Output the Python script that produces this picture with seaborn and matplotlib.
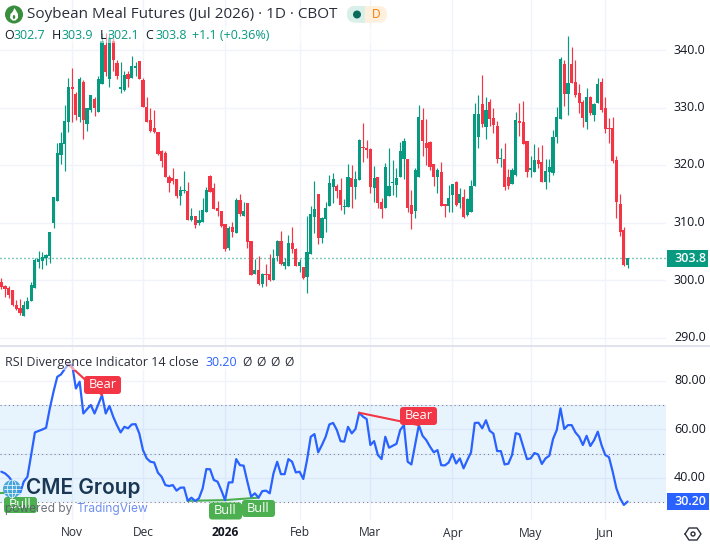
import matplotlib
matplotlib.use("Agg")
import matplotlib.pyplot as plt
from matplotlib.patches import Circle, Ellipse, FancyBboxPatch, Polygon, Rectangle
import numpy as np
import pandas as pd
import seaborn as sns

# Daily session values for the July 2026 soybean meal contract
opens = [299.65, 299.0, 298.6, 298.3, 295.7, 295.1, 293.8, 295.0, 296.3, 298.6, 303.1, 303.3, 303.8, 304.2, 309.9, 313.8,
         321.8, 323.7, 327.5, 333.5, 332.3, 328.4, 334.5, 327.1, 329.5, 331.5, 329.2, 334.1, 340.9, 335.0, 341.5, 337.8,
         333.3, 333.0, 335.9, 335.2, 336.9, 338.1, 334.8, 330.1, 327.8, 326.4, 325.7, 322.4, 322.1, 317.9, 317.7, 317.6,
         314.6, 315.5, 315.5, 310.4, 311.1, 309.9, 310.1, 311.8, 318.1, 316.0, 312.5, 312.0, 309.7, 305.6, 309.2, 308.2,
         313.9, 311.1, 313.4, 306.8, 301.0, 301.7, 299.3, 301.0, 301.0, 300.0, 304.2, 306.8, 302.4, 302.4, 306.4, 305.4,
         302.4, 302.3, 300.5, 304.5, 311.0, 314.9, 307.3, 310.6, 312.9, 316.2, 316.3, 315.6, 312.7, 312.7, 317.7, 316.2,
         317.4, 323.1, 322.9, 322.8, 316.0, 317.9, 313.6, 312.5, 314.6, 316.9, 316.5, 317.9, 321.0, 321.1, 313.0, 312.0,
         317.9, 327.8, 323.8, 324.0, 320.2, 317.9, 318.8, 313.2, 312.9, 314.8, 317.0, 313.4, 314.4, 311.3, 311.9, 316.4,
         324.9, 330.6, 326.6, 331.0, 328.2, 326.8, 321.1, 321.0, 317.9, 316.7, 318.2, 327.7, 327.5, 324.2, 319.2, 318.8,
         320.9, 320.5, 317.0, 318.8, 318.6, 324.9, 328.0, 337.6, 332.4, 337.6, 334.5, 332.6, 331.0, 327.5, 331.9, 328.7,
         330.8, 334.5, 330.0, 326.4, 326.5, 320.9, 313.2, 308.7, 302.7]
highs = [300.3, 299.1, 299.0, 298.3, 296.5, 296.7, 296.3, 297.0, 299.7, 303.8, 305.0, 304.9, 304.5, 308.3, 314.4, 323.9,
         325.7, 330.4, 335.2, 336.8, 332.7, 335.3, 334.8, 330.0, 332.2, 331.8, 335.4, 342.9, 342.9, 343.0, 342.1, 338.2,
         337.9, 336.3, 336.4, 339.0, 338.0, 338.1, 335.1, 331.8, 330.0, 329.6, 325.7, 322.7, 322.4, 318.3, 319.5, 317.6,
         316.3, 319.0, 317.0, 312.5, 311.1, 312.2, 314.3, 316.2, 318.3, 316.9, 313.7, 312.0, 309.7, 309.4, 310.1, 314.3,
         314.9, 313.6, 313.4, 306.8, 303.7, 304.2, 301.2, 302.8, 304.5, 305.4, 307.0, 308.5, 303.8, 307.8, 309.2, 305.6,
         303.7, 302.3, 311.1, 312.9, 317.2, 314.9, 311.0, 313.6, 318.2, 318.6, 316.7, 317.7, 314.1, 320.2, 320.0, 318.9,
         324.6, 327.3, 324.3, 323.0, 319.8, 317.9, 314.2, 320.3, 322.9, 320.9, 319.5, 324.0, 324.7, 321.1, 315.6, 319.5,
         330.4, 330.0, 328.0, 324.2, 320.2, 319.5, 320.5, 313.2, 316.5, 316.7, 317.2, 316.0, 315.8, 314.2, 317.4, 330.8,
         332.2, 335.7, 331.9, 331.5, 329.9, 327.7, 323.0, 323.8, 319.3, 319.5, 329.2, 330.8, 331.2, 324.2, 321.6, 323.7,
         323.1, 323.5, 321.0, 321.0, 326.1, 330.1, 338.8, 338.3, 342.5, 340.6, 338.3, 334.1, 331.3, 333.4, 332.0, 330.8,
         335.2, 335.2, 331.9, 328.2, 328.4, 321.6, 314.9, 309.2, 303.9]
lows = [298.4, 297.0, 296.9, 295.5, 294.8, 293.9, 293.8, 295.0, 296.3, 298.6, 302.1, 301.9, 302.6, 303.0, 309.0, 313.8,
        320.2, 319.0, 325.8, 327.4, 327.9, 327.5, 324.6, 326.0, 329.2, 328.5, 329.2, 334.1, 335.5, 333.6, 336.4, 334.9,
        332.5, 332.8, 333.6, 335.2, 335.4, 334.9, 330.1, 327.5, 325.8, 325.5, 321.7, 319.7, 317.9, 315.3, 316.7, 314.3,
        313.0, 315.1, 310.4, 310.3, 309.0, 309.6, 310.1, 311.8, 315.3, 312.3, 311.1, 309.2, 305.0, 305.2, 307.5, 308.2,
        311.1, 311.1, 305.6, 300.9, 301.0, 299.1, 298.8, 299.0, 299.8, 300.0, 303.3, 302.6, 301.9, 302.4, 304.7, 302.4,
        301.4, 300.2, 297.7, 304.5, 308.2, 306.3, 306.4, 308.3, 312.9, 313.4, 314.2, 312.2, 311.5, 312.7, 312.5, 314.1,
        317.4, 320.5, 321.2, 315.2, 313.6, 312.6, 310.8, 312.5, 314.6, 314.8, 314.4, 317.9, 317.6, 311.9, 308.9, 310.8,
        317.9, 321.5, 320.0, 319.2, 316.3, 315.1, 312.9, 311.0, 311.8, 311.8, 312.9, 312.5, 310.8, 311.1, 311.9, 316.4,
        323.0, 326.6, 324.5, 326.8, 325.6, 320.3, 319.7, 315.6, 315.8, 316.7, 318.1, 325.0, 323.7, 317.9, 317.9, 318.8,
        319.5, 317.0, 315.8, 317.0, 318.3, 323.8, 328.0, 330.3, 328.7, 334.3, 331.9, 329.0, 326.7, 326.3, 328.7, 327.7,
        330.8, 329.2, 325.6, 323.8, 320.3, 310.8, 307.6, 302.4, 302.1]
closes = [298.8, 298.4, 297.4, 295.7, 295.0, 294.3, 295.7, 296.3, 299.1, 303.5, 303.6, 304.0, 304.3, 308.3, 314.4, 322.1,
          323.8, 327.7, 333.5, 333.2, 328.7, 335.0, 327.8, 329.9, 332.2, 330.0, 334.9, 341.6, 336.2, 341.9, 338.3, 335.5,
          333.4, 335.6, 335.0, 337.2, 337.2, 335.0, 330.1, 327.5, 325.9, 325.8, 322.0, 320.7, 317.9, 316.9, 317.2, 314.6,
          315.7, 315.7, 310.4, 311.1, 309.6, 310.4, 312.2, 315.6, 315.3, 312.3, 312.0, 309.4, 305.4, 309.0, 308.3, 313.9,
          311.4, 312.0, 306.7, 300.9, 301.7, 299.3, 301.0, 300.9, 300.0, 303.8, 306.8, 302.8, 303.1, 306.4, 305.4, 302.4,
          303.1, 300.4, 304.9, 311.5, 312.3, 307.3, 310.8, 312.5, 316.9, 317.6, 315.5, 313.0, 312.9, 317.9, 316.2, 317.6,
          324.3, 322.9, 322.6, 316.2, 317.7, 313.4, 312.3, 319.6, 316.3, 317.0, 317.7, 322.4, 324.2, 312.5, 311.5, 319.1,
          328.3, 324.2, 322.9, 319.6, 317.9, 319.1, 312.9, 312.9, 314.2, 316.7, 313.0, 314.9, 310.9, 314.1, 316.3, 328.9,
          328.9, 327.2, 329.5, 328.0, 327.0, 321.0, 321.2, 316.2, 316.3, 319.1, 327.9, 327.3, 323.7, 318.8, 319.3, 320.9,
          320.2, 317.0, 318.9, 319.7, 324.9, 328.4, 338.5, 332.4, 334.3, 334.3, 332.2, 330.8, 328.2, 331.9, 329.1, 330.6,
          334.1, 329.6, 326.3, 326.3, 320.7, 313.5, 308.3, 302.6, 303.8]

# Relative strength readings, one per session
rsi_values = [42.5, 41.8, 40.4, 38.4, 37.0, 33.6, 38.4, 40.4, 49.4, 58.7, 59.3, 59.9, 60.6, 68.6, 75.5, 81.6,
              82.6, 84.8, 86.7, 86.5, 76.8, 79.6, 66.5, 68.3, 70.0, 66.5, 70.2, 74.1, 66.5, 69.6, 65.2, 61.7,
              58.7, 61.0, 60.4, 62.0, 62.1, 58.3, 51.4, 48.0, 46.6, 46.3, 42.1, 40.4, 37.0, 36.6, 37.0, 34.7,
              35.9, 36.0, 30.5, 31.8, 30.4, 31.5, 35.6, 43.6, 43.5, 39.1, 38.4, 34.9, 30.8, 38.1, 38.1, 47.7,
              45.2, 45.0, 38.4, 32.2, 33.6, 31.8, 34.5, 34.7, 33.6, 41.8, 46.6, 41.5, 41.5, 47.7, 46.6, 42.2,
              42.5, 39.5, 47.3, 56.9, 58.0, 50.5, 53.5, 56.9, 62.0, 62.6, 59.7, 55.1, 54.9, 61.0, 58.3, 60.1,
              66.8, 65.2, 64.2, 53.5, 55.1, 49.4, 47.7, 56.9, 52.4, 53.2, 54.0, 59.7, 61.7, 46.6, 45.5, 53.5,
              61.7, 57.3, 55.5, 52.8, 50.5, 51.4, 45.2, 45.1, 46.3, 49.8, 45.9, 48.0, 43.9, 47.3, 50.5, 62.6,
              62.7, 60.4, 63.7, 59.4, 58.2, 51.0, 51.0, 45.5, 45.8, 49.4, 58.4, 57.9, 52.8, 47.7, 48.0, 50.2,
              49.6, 45.7, 48.0, 49.1, 56.0, 59.7, 68.6, 60.1, 61.7, 61.7, 58.7, 56.9, 53.5, 57.3, 53.1, 55.5,
              59.0, 53.5, 49.4, 48.5, 42.5, 35.6, 31.5, 28.8, 30.2]

month_labels = ["Nov", "Dec", "2026", "Feb", "Mar", "Apr", "May", "Jun"]
month_sessions = [19, 38, 60, 80, 99, 121, 142, 162]
price_ticks = [290.0, 300.0, 310.0, 320.0, 330.0, 340.0]
rsi_ticks = [40.0, 60.0, 80.0]
rsi_levels = [30.0, 50.0, 70.0]
last_price = 303.8
last_rsi = 30.20

# Divergence markers: (first session, first value, second session, second value)
bear_segments = [(18, 86.7, 27, 74.1), (96, 66.8, 112, 61.7)]
bull_segments = [(50, 30.5, 60, 30.8), (60, 30.8, 69, 31.8), (-1, 33.6, 5, 33.6)]

UP = "#089981"
DOWN = "#f23645"
GRID = "#f0f3fa"
TEXT = "#131722"
BLUE = "#2962ff"
BULL = "#4caf50"

sns.set_theme(style="white", rc={"axes.edgecolor": "white", "axes.facecolor": "white"})
plt.rcParams["font.family"] = ["Open Sans", "DejaVu Sans"]

W, H = 710, 545
fig = plt.figure(figsize=(W / 100, H / 100), dpi=100, facecolor="white")


def axes_px(left, top, right, bottom):
    return fig.add_axes([left / W, 1 - bottom / H, (right - left) / W, (bottom - top) / H])


ax = axes_px(0, 0, 666, 345)
rsi_ax = axes_px(0, 347, 666, 520)
overlay = fig.add_axes([0, 0, 1, 1], zorder=10)
overlay.set_xlim(0, W)
overlay.set_ylim(H, 0)
overlay.axis("off")

frame = pd.DataFrame({"session": np.arange(len(closes)), "open": opens, "high": highs,
                      "low": lows, "close": closes, "rsi": rsi_values})
frame["up"] = frame["close"] >= frame["open"]

x_range = (-0.36, 178.3)
for a in (ax, rsi_ax):
    a.set_xlim(*x_range)
    a.set_xticks(month_sessions)
    a.grid(True, color=GRID, linewidth=1)
    a.set_axisbelow(True)
    a.yaxis.tick_right()
    a.tick_params(left=False, right=False, bottom=False, labelbottom=False, labelright=False)
    sns.despine(ax=a, left=True, right=True, top=True, bottom=True)

# Candles
ax.set_ylim(288.7, 348.7)
ax.set_yticks(price_ticks)
for _, row in frame.iterrows():
    colour = UP if row["up"] else DOWN
    ax.vlines(row["session"], row["low"], row["high"], color=colour, linewidth=0.85, zorder=3)
    ax.bar(row["session"], max(abs(row["close"] - row["open"]), 0.2), width=0.86,
           bottom=min(row["open"], row["close"]), color=colour, linewidth=0, zorder=4)
ax.axhline(last_price, color=UP, linewidth=1.0, linestyle=(0, (0.75, 2.13)), zorder=2)

# RSI pane
rsi_ax.set_ylim(22.6, 93.9)
rsi_ax.set_yticks([30, 40, 50, 60, 70, 80])
rsi_ax.axhspan(rsi_levels[0], rsi_levels[2], color="#2196f3", alpha=0.1, linewidth=0, zorder=1)
for level in rsi_levels:
    rsi_ax.axhline(level, color="#787b86", linewidth=0.75, linestyle=(0, (1, 3)), zorder=2)
sns.lineplot(data=frame, x="session", y="rsi", ax=rsi_ax, color=BLUE, linewidth=1.6, zorder=4, errorbar=None)
rsi_ax.set_xlabel("")
rsi_ax.set_ylabel("")
rsi_ax.tick_params(labelbottom=False)
for x0, y0, x1, y1 in bear_segments:
    rsi_ax.plot([x0, x1], [y0, y1], color=DOWN, linewidth=1.5, zorder=5)
for x0, y0, x1, y1 in bull_segments:
    rsi_ax.plot([x0, x1], [y0, y1], color=BULL, linewidth=1.5, zorder=3)

# Separator between panes
overlay.add_patch(Rectangle((0, 345), 710, 2, color="#e0e3eb", linewidth=0))

# Fade under the header so candles sit behind the legend text
overlay.add_patch(Rectangle((0, 26), 420, 17, color="white", alpha=0.5, linewidth=0))
overlay.add_patch(Rectangle((0, 350), 300, 20, color="white", alpha=0.55, linewidth=0))


def label(x, y, s, size, color=TEXT, ha="left", weight="normal", **kw):
    return overlay.text(x, y, s, fontsize=size * 0.72, color=color, ha=ha, va="center",
                        fontweight=weight, **kw)


# Price scale labels
for tick in price_ticks:
    yy = 50 + (340 - tick) * 5.75
    label(674, yy, f"{tick:.1f}", 12.5)
overlay.add_patch(Rectangle((667, 250), 41, 17, color=UP, linewidth=0))
label(674, 258.5, f"{last_price:.1f}", 12.5, color="white", weight="semibold")

# RSI scale labels
for tick in rsi_ticks:
    yy = 502 - (tick - 30) * 2.43
    label(674, yy, f"{tick:.2f}", 12.5)
overlay.add_patch(Rectangle((667, 493), 42, 17, color=BLUE, linewidth=0))
label(674, 501.5, f"{last_rsi:.2f}", 12.5, color="white", weight="semibold")

# Month labels
for session, name in zip(month_sessions, month_labels):
    xx = 1.33 + 3.728 * session
    label(xx, 533, name, 12, ha="center", weight="bold" if name == "2026" else "normal",
          color=TEXT if name == "2026" else "#2a2e39")

# Header row: commodity logo with a small white flame
overlay.add_patch(Circle((14, 14.5), 9, color="#388e3c", linewidth=0))
overlay.add_patch(Polygon([(14.5, 8), (18, 14), (18, 18), (15.5, 20.5), (12.5, 20.5), (10, 18), (10.5, 14), (12.5, 12)],
                          closed=True, color="white", linewidth=0))
overlay.add_patch(Ellipse((14, 17), 2.5, 4, color="#388e3c", linewidth=0))
label(27, 15, "Soybean Meal Futures (Jul 2026) · 1D · CBOT", 15.3, color="#2a2e39")
overlay.add_patch(FancyBboxPatch((347, 6), 40, 16.5, boxstyle="round,pad=0,rounding_size=8",
                                 facecolor="#fff0dd", edgecolor="none"))
overlay.add_patch(FancyBboxPatch((347, 6), 24, 16.5, boxstyle="round,pad=0,rounding_size=8",
                                 facecolor="#d9f0ea", edgecolor="none"))
overlay.add_patch(Rectangle((365, 6), 6, 16.5, color="#fff0dd", linewidth=0))
overlay.add_patch(Rectangle((359, 6), 6, 16.5, color="#d9f0ea", linewidth=0))
overlay.add_patch(Circle((357, 14.5), 4, color="#0b6b5c", linewidth=0))
label(376, 14.5, "D", 12, color="#f57c00", ha="center")

xpos = 4
for head, value, gap in [("O", "302.7", 48), ("H", "303.9", 48), ("L", "302.1", 45), ("C", "303.8", 47)]:
    label(xpos, 35.5, head, 12.5)
    label(xpos + (8 if head == "L" else 10), 35.5, value, 12.5, color=UP)
    xpos += gap
label(192, 35.5, "+1.1 (+0.36%)", 12.5, color=UP)

# RSI legend
label(5, 362.5, "RSI Divergence Indicator 14 close", 12.5, color="#2a2e39")
label(205, 362.5, "30.20", 12.5, color=BLUE)
for xx in (247, 261, 275, 289):
    label(xx, 362.5, "Ø", 12, color="#2a2e39", ha="center")


def badge(x0, y0, w, h, text, colour):
    overlay.add_patch(FancyBboxPatch((x0, y0), w, h, boxstyle="round,pad=0,rounding_size=3",
                                     facecolor=colour, edgecolor="none", zorder=6))
    overlay.text(x0 + w / 2, y0 + h / 2 - 0.5, text, color="white", fontsize=9.3, ha="center", va="center",
                 fontweight="medium", zorder=7)


badge(84, 376, 37, 18, "Bear", DOWN)
badge(400, 407, 37, 18, "Bear", DOWN)
badge(209, 502.5, 33, 17, "Bull", BULL)
badge(242, 500, 33, 17, "Bull", BULL)
badge(4, 497, 33, 16, "Bull", BULL)

# Exchange and platform marks over the lower left corner
overlay.add_patch(Circle((12, 489), 9, color="#3aa0d8", alpha=0.9, linewidth=0, zorder=8))
for dy in (-4, 0, 4):
    overlay.plot([3.5, 20.5], [489 + dy, 489 + dy], color="white", linewidth=0.5, zorder=9)
overlay.plot([12, 12], [480, 498], color="white", linewidth=0.5, zorder=9)
overlay.add_patch(Ellipse((12, 489), 9, 18, fill=False, edgecolor="white", linewidth=0.5, zorder=9))
overlay.text(26, 488.5, "CME Group", family="Inter", fontsize=15, color="#0f2d4a", va="center", ha="left",
             zorder=9, fontweight="semibold", alpha=0.95)
overlay.text(5, 509, "powered by", family="Inter", fontsize=8.6, color="#555a66", va="center", zorder=9,
             alpha=0.85)
overlay.text(76, 509, "TradingView", family="Inter", fontsize=8.6, color="#6f8ff0", va="center", zorder=9)

# Settings glyph in the scale corner
overlay.plot([685, 689, 697, 701, 697, 689, 685], [534, 528, 528, 534, 540, 540, 534], color="#2a2e39", linewidth=1)
overlay.add_patch(Circle((693, 534), 2, fill=False, edgecolor="#2a2e39", linewidth=1))

fig.savefig("out.png", dpi=100)
